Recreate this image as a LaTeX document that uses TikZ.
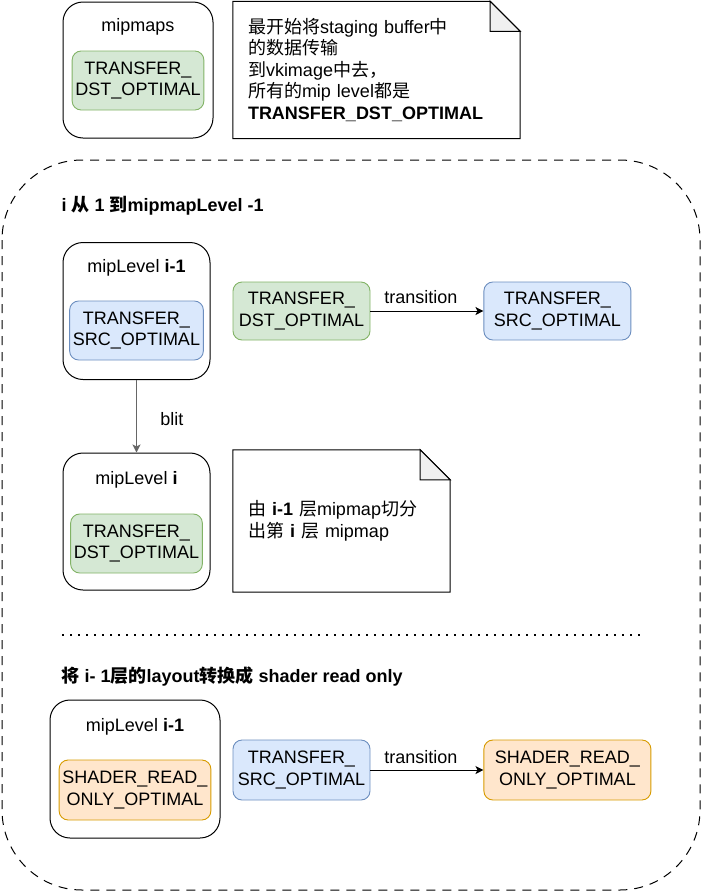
\documentclass[tikz,border=0pt]{standalone}
\usepackage{fontspec}
\setmainfont{Liberation Sans}
\newfontfamily\cjk{Noto Sans CJK SC}
\usetikzlibrary{positioning,arrows.meta}
\definecolor{dstfill}{HTML}{D5E8D4}
\definecolor{dstline}{HTML}{82B366}
\definecolor{srcfill}{HTML}{DAE8FC}
\definecolor{srcline}{HTML}{6C8EBF}
\definecolor{shdfill}{HTML}{FFE6CC}
\definecolor{shdline}{HTML}{D79B00}
\definecolor{foldgray}{HTML}{F0F0F0}
\definecolor{blitgray}{HTML}{666666}
\tikzset{
    every node/.append style={font=\fontsize{18}{21.5}\selectfont},
    level/.style={%
        draw, rounded corners=20pt, line width=1pt,
        minimum width=#1,
        minimum height=137pt
    },
    level/.default=147pt,
    layout/.style={%
        draw=#1line, fill=#1fill, rounded corners=9pt, line width=0.9pt,
        align=center, minimum width=127pt, minimum height=59pt
    },
    note/.style={%
        align=left, inner xsep=15pt, text width=#1
    },
    heading/.style={anchor=west, font=\fontsize{18}{21.5}\selectfont\bfseries},
    loopframe/.style={draw, line width=1pt, dash pattern=on 9pt off 7pt, rounded corners=80pt},
    dotline/.style={line width=2pt, dash pattern=on 2pt off 6pt},
    >={Stealth[length=8pt,width=8pt,inset=2pt]}
}
\newcommand{\notefold}[1]{%
    \draw[line width=1pt] (#1.south west) -- (#1.north west) -- ([xshift=-30pt]#1.north east)
        -- ([yshift=-30pt]#1.north east) -- (#1.south east) -- cycle;
    \draw[line width=1pt, fill=foldgray] ([xshift=-30pt]#1.north east)
        -- ([xshift=-30pt,yshift=-30pt]#1.north east) -- ([yshift=-30pt]#1.north east) -- cycle;}

\begin{document}
\begin{tikzpicture}[x=1pt, y=-1pt]
                \useasboundingbox (0,0) rectangle (702,892);
                \node[level=150pt, minimum height=136pt] (M0) at (138,70) {};
                \node (M0t) at (138,27) {mipmaps};
                \node[layout=dst, minimum width=130pt] (M0s) at (138,80.5) {TRANSFER\_\\DST\_OPTIMAL};
                \node[note=257pt, minimum height=137pt] (N1) at (376.5,70) {{\cjk 最开始将}staging buffer{\cjk 中}\\{\cjk 的数据传输}\\{\cjk 到}vkimage{\cjk 中去，}\\{\cjk 所有的}mip level{\cjk 都是}\\\textbf{TRANSFER\_DST\_OPTIMAL}};
                \notefold{N1}

                \draw[loopframe] (2,160) rectangle (700,890);
                \node[heading] (H1) at (58,206) {i {\cjk\bfseries 从} 1 {\cjk\bfseries 到}mipmapLevel -1};

                \node[level] (L1) at (136.5,311) {};
                \node (L1t) at (136.5,268) {mipLevel \textbf{i-1}};
                \node[layout=src] (L1s) at (136.5,330.5) {TRANSFER\_\\SRC\_OPTIMAL};
                \node[layout=dst, minimum width=137pt, minimum height=58pt] (D1) at (301.5,311) {TRANSFER\_\\DST\_OPTIMAL};
                \node[layout=src, minimum width=147pt, minimum height=58pt, right=113pt of D1] (S1) {TRANSFER\_\\SRC\_OPTIMAL};
                \draw[->, line width=1pt] (D1) -- node[above, xshift=-6pt, yshift=3pt] {transition} (S1);

                \node[level] (L2) at (136.5,521.5) {};
                \node (L2t) at (136.5,480) {mipLevel \textbf{i}};
                \node[layout=dst] (L2s) at (136.5,543.5) {TRANSFER\_\\DST\_OPTIMAL};
                \draw[->, blitgray, line width=1.2pt] (L1) -- node[right=20pt, yshift=-3pt, text=black] {blit} (L2);
                \node[note=187pt, minimum height=142pt] (N2) at (341.5,521) {{\cjk 由} \textbf{i-1} {\cjk 层}mipmap{\cjk 切分}\\{\cjk 出第} \textbf{i} {\cjk 层} mipmap};
                \notefold{N2}

                \coordinate (dotA) at (62,635);
                \coordinate (dotB) at (640,635);
                \draw[dotline] (dotA) -- (dotB);
                \node[heading] (H2) at (58,677) {{\cjk\bfseries 将} i- 1{\cjk\bfseries 层的}layout{\cjk\bfseries 转换成} shader read only};

                \node[level=170pt, minimum height=138pt] (L3) at (135,769) {};
                \node (L3t) at (135,727) {mipLevel \textbf{i-1}};
                \node[layout=shd, minimum width=150pt, minimum height=60pt] (L3s) at (135,790) {SHADER\_READ\_\\ONLY\_OPTIMAL};
                \node[layout=src, minimum width=137pt, minimum height=60pt] (S2) at (301.5,770) {TRANSFER\_\\SRC\_OPTIMAL};
                \node[layout=shd, minimum width=167pt, minimum height=60pt, right=113pt of S2] (R2) {SHADER\_READ\_\\ONLY\_OPTIMAL};
                \draw[->, line width=1pt] (S2) -- node[above, xshift=-6pt, yshift=3pt] {transition} (R2);
            \end{tikzpicture}
\end{document}
